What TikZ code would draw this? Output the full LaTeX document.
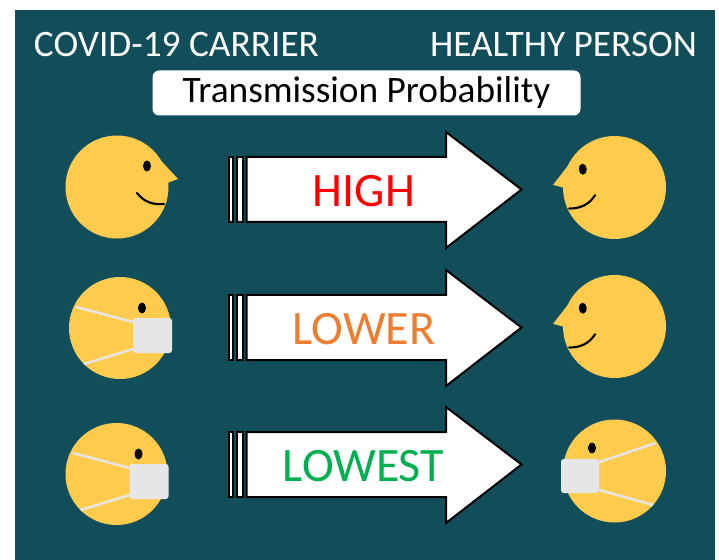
\documentclass[tikz,border=0pt]{standalone}
\usepackage{fontspec}
\setmainfont{Carlito}
\usepackage{xcolor}
\usepackage{tikz}
\usetikzlibrary{positioning}
\definecolor{panel}{HTML}{124E5A}
\definecolor{skin}{HTML}{FFCB4D}
\definecolor{cloth}{HTML}{E7E6E6}
\definecolor{lower}{HTML}{ED7D31}
\definecolor{lowest}{HTML}{00B050}
\tikzset{
  x=.75pt, y=-.75pt,
  heading/.style = {text=white, inner sep=0, font=\fontsize{28}{30}\selectfont},
  level/.style = {inner sep=0, font=\fontsize{36}{38}\selectfont},
  shell/.style = {draw=black, fill=white, line width=1.5pt, line join=miter},
  strap/.style = {draw=cloth, line width=1.9pt},
  profile/.pic = {
    \fill [skin] (0,0) circle [radius=51.5];
    \fill [skin] (35,-36) -- (61,-8) -- (50,-4) -- (49,15) -- cycle;
    \fill [black] (30,-21) ellipse [x radius=4, y radius=5.5];
    \draw [black, line width=1.6pt, line cap=round] (20,6) .. controls (27,15) and (36,18) .. (47,17);
  },
  masked/.pic = {
    \fill [skin] (0,0) circle [radius=51];
    \fill [black] (22,-20) ellipse [x radius=4, y radius=5.5];
    \draw [strap] (13,-6) -- (-44,-21);
    \draw [strap] (13,21) -- (-36,36);
    \fill [cloth, rounded corners=2pt] (13,-10) rectangle (52,25);
  },
  maskedright/.pic = {
    \fill [skin] (0,0) circle [radius=51.5];
    \fill [black] (-22.5,-23) ellipse [x radius=4, y radius=5.5];
    \draw [strap] (-15,-9) -- (41,-28);
    \draw [strap] (-15,19) -- (38.5,34);
    \fill [cloth, rounded corners=2pt] (-53.5,-12) rectangle (-15.5,22);
  },
  pointer/.pic = {
    \draw [shell] (228.5,157) rectangle (232.5,222);
    \draw [shell] (236.5,157) rectangle (243,222);
    \draw [shell] (246.5,157) -- (446,157) -- (446,132) -- (521.5,189.5) -- (446,248) -- (446,222) -- (246.5,222) -- cycle;
  },
}
\begin{document}
\begin{tikzpicture}
\useasboundingbox (0,0) rectangle (719,560);
\fill [panel] (15,10) rectangle (715,560);
% headings
\node [heading] (carrier) at (176.5,45) {COVID-19 CARRIER};
\node [heading] (healthy) at (563.5,45) {HEALTHY PERSON};
\node [fill=white, rounded corners=5pt, minimum width=321pt, minimum height=33.75pt, inner sep=0,
       font=\fontsize{28}{30}\selectfont] (title) at (366.5,93) {Transmission Probability};
% arrows
\pic at (0,0) {pointer};
\pic at (0,138) {pointer};
\pic at (0,275) {pointer};
\node [level, text=red] (high) at (364,191) {HIGH};
\node [level, text=lower] (lowerlabel) at (364,329) {LOWER};
\node [level, text=lowest] (lowestlabel) at (363.5,466) {LOWEST};
% carriers
\pic at (117,187) {profile};
\pic at (120,328) {masked};
\pic at (116.5,474) {masked};
% healthy people
\pic [xscale=-1, rotate=-5] at (614.5,187.5) {profile};
\pic [xscale=-1, rotate=-5] at (614.5,326.5) {profile};
\pic at (614.5,471) {maskedright};
\end{tikzpicture}
\end{document}
